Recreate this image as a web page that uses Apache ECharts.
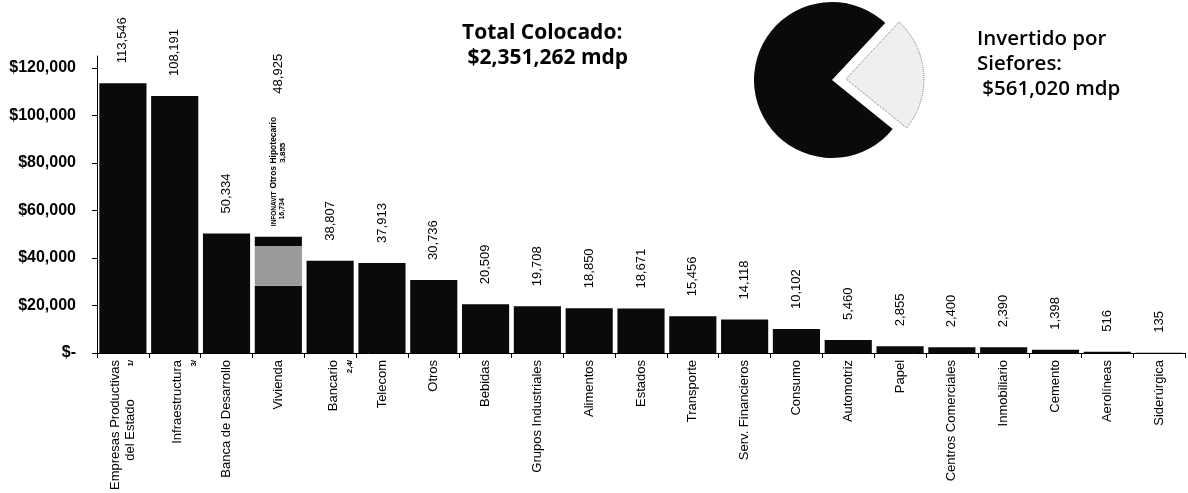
<!DOCTYPE html>
<html>
<head>
<meta charset="utf-8">
<script src="https://cdn.jsdelivr.net/npm/echarts@6/dist/echarts.min.js"></script>
<style>
html,body{margin:0;padding:0;background:#fff;}
#chart{width:1188px;height:493px;}
</style>
</head>
<body>
<div id="chart"></div>
<script>
// ---------- DATA ----------
const categories = ['Empresas Productivas\ndel Estado','Infraestructura','Banca de Desarrollo','Vivienda','Bancario','Telecom','Otros','Bebidas','Grupos Industriales','Alimentos','Estados','Transporte','Serv. Financieros','Consumo','Automotriz','Papel','Centros Comerciales','Inmobiliario','Cemento','Aerolíneas','Siderúrgica'];
const footnotes = ['1/','3/','','','2,4/','','','','','','','','','','','','','','','',''];
const totals = [113546,108191,50334,48925,38807,37913,30736,20509,19708,18850,18671,15456,14118,10102,5460,2855,2400,2390,1398,516,135];
const viviendaNames = ['Resto Vivienda','INFONAVIT','Otros Hipotecario'];
const viviendaValues = [28336,16734,3855];
const yTicks = [0,20000,40000,60000,80000,100000,120000];
const totalColocado = 2351262;
const siefores = 561020;
const pieNames = ['Invertido por Siefores','Resto'];
const pieValues = [siefores, totalColocado - siefores];

// ---------- HELPERS ----------
const vivIdx = categories.indexOf('Vivienda');
const fmt = v => v.toLocaleString('en-US');
const BLACK = '#0a0a0a';
const narrow = "'Liberation Sans Narrow','Arial Narrow','Liberation Sans',Arial,sans-serif";

function xLabel(value, idx) {
  const foot = footnotes[idx];
  const lines = value.split('\n');
  if (!foot) return value;
  if (lines.length === 2) return '{n|' + lines[0] + '}\n{d|' + lines[1] + '}{f|' + foot + '}';
  return '{s| }\n{n|' + lines[0] + '}\n{g|' + foot + '}';
}

const mainData = totals.map((v, i) => i === vivIdx
  ? { value: viviendaValues[0], label: { distance: 192 } }
  : v);
const seg1Data = categories.map((c, i) => i === vivIdx ? viviendaValues[1] : '-');
const seg2Data = categories.map((c, i) => i === vivIdx ? viviendaValues[2] : '-');

const chart = echarts.init(document.getElementById('chart'), null, { renderer: 'canvas' });

const option = {
  animation: false,
  backgroundColor: '#ffffff',
  textStyle: { fontFamily: "'Liberation Sans', Arial, sans-serif", color: '#000' },
  grid: { left: 97, right: 3, top: 56, bottom: 135 },
  xAxis: {
    type: 'category',
    data: categories,
    axisLine: { show: true, lineStyle: { color: '#000', width: 1 } },
    axisTick: { show: true, alignWithLabel: false, interval: 0, length: 5, lineStyle: { color: '#000' } },
    axisLabel: {
      interval: 0, rotate: 90, margin: 7,
      fontSize: 13, lineHeight: 15, color: '#000',
      fontFamily: "'Liberation Sans', Arial, sans-serif",
      formatter: xLabel,
      rich: {
        n: { fontSize: 13, lineHeight: 15, color: '#000' },
        d: { fontSize: 13, lineHeight: 15, color: '#000', width: 116, align: 'center' },
        f: { fontSize: 8, fontWeight: 'bold', lineHeight: 15, color: '#000', width: 10, align: 'right' },
        s: { fontSize: 4, lineHeight: 24 },
        g: { fontSize: 8, fontWeight: 'bold', lineHeight: 18, color: '#000' }
      }
    },
    splitLine: { show: false }
  },
  yAxis: {
    type: 'value',
    min: 0, max: 125000, interval: 20000,
    axisLine: { show: true, lineStyle: { color: '#000', width: 1 } },
    axisTick: { show: true, length: 5, lineStyle: { color: '#000' }, customValues: yTicks },
    axisLabel: {
      margin: 21, fontSize: 16, fontWeight: 'bold', color: '#000',
      fontFamily: "'Liberation Sans', Arial, sans-serif",
      customValues: yTicks,
      formatter: v => (v % 20000 !== 0) ? '' : (v === 0 ? '$-' : '$' + fmt(v))
    },
    splitLine: { show: false }
  },
  series: [
    {
      type: 'bar', name: viviendaNames[0], stack: 'v', data: mainData,
      barCategoryGap: '9%',
      itemStyle: { color: BLACK },
      label: {
        show: true, position: 'top', rotate: 90, align: 'left', verticalAlign: 'middle',
        distance: 20, fontSize: 13, color: '#000',
        formatter: p => fmt(totals[p.dataIndex])
      }
    },
    {
      type: 'bar', name: viviendaNames[1], stack: 'v', data: seg1Data,
      itemStyle: { color: '#9a9a9a' },
      label: {
        show: true, position: 'top', rotate: 90, align: 'left', verticalAlign: 'middle',
        distance: 22,
        formatter: p => '{a|' + viviendaNames[1] + '}\n{b|' + fmt(p.value) + '}',
        rich: {
          a: { fontSize: 6.5, fontWeight: 'bold', fontFamily: narrow, color: '#000', width: 30, align: 'center', lineHeight: 8 },
          b: { fontSize: 7, fontWeight: 'bold', fontFamily: narrow, color: '#000', width: 30, align: 'center', lineHeight: 8 }
        }
      }
    },
    {
      type: 'bar', name: viviendaNames[2], stack: 'v', data: seg2Data,
      itemStyle: { color: BLACK },
      label: {
        show: true, position: 'top', rotate: 90, align: 'left', verticalAlign: 'middle',
        distance: 48,
        formatter: p => '{a|' + viviendaNames[2] + '}\n{b|' + fmt(p.value) + '}',
        rich: {
          a: { fontSize: 8.5, fontWeight: 'bold', fontFamily: narrow, color: '#000', width: 72, align: 'center', lineHeight: 9 },
          b: { fontSize: 8, fontWeight: 'bold', fontFamily: narrow, color: '#000', width: 72, align: 'center', lineHeight: 9 }
        }
      }
    },
    {
      type: 'pie',
      center: [832, 80],
      radius: 78,
      startAngle: 47,
      clockwise: true,
      selectedMode: 'single',
      selectedOffset: 14,
      silent: true,
      label: { show: false },
      labelLine: { show: false },
      data: [
        { name: pieNames[0], value: pieValues[0], selected: true,
          itemStyle: { color: '#efefef', borderColor: '#777', borderWidth: 1, borderType: 'dotted' } },
        { name: pieNames[1], value: pieValues[1], itemStyle: { color: BLACK } }
      ]
    }
  ],
  graphic: [
    {
      type: 'text', left: 462, top: 21,
      style: {
        text: 'Total Colocado:\n $' + fmt(totalColocado) + ' mdp',
        font: "bold 21px 'Open Sans', sans-serif", lineHeight: 25, fill: '#000'
      }
    },
    {
      type: 'text', left: 977, top: 27,
      style: {
        text: 'Invertido por\nSiefores:\n $' + fmt(siefores) + ' mdp',
        font: "600 20.5px 'Open Sans', sans-serif", lineHeight: 25, fill: '#000'
      }
    }
  ]
};
chart.setOption(option);
</script>
</body>
</html>
